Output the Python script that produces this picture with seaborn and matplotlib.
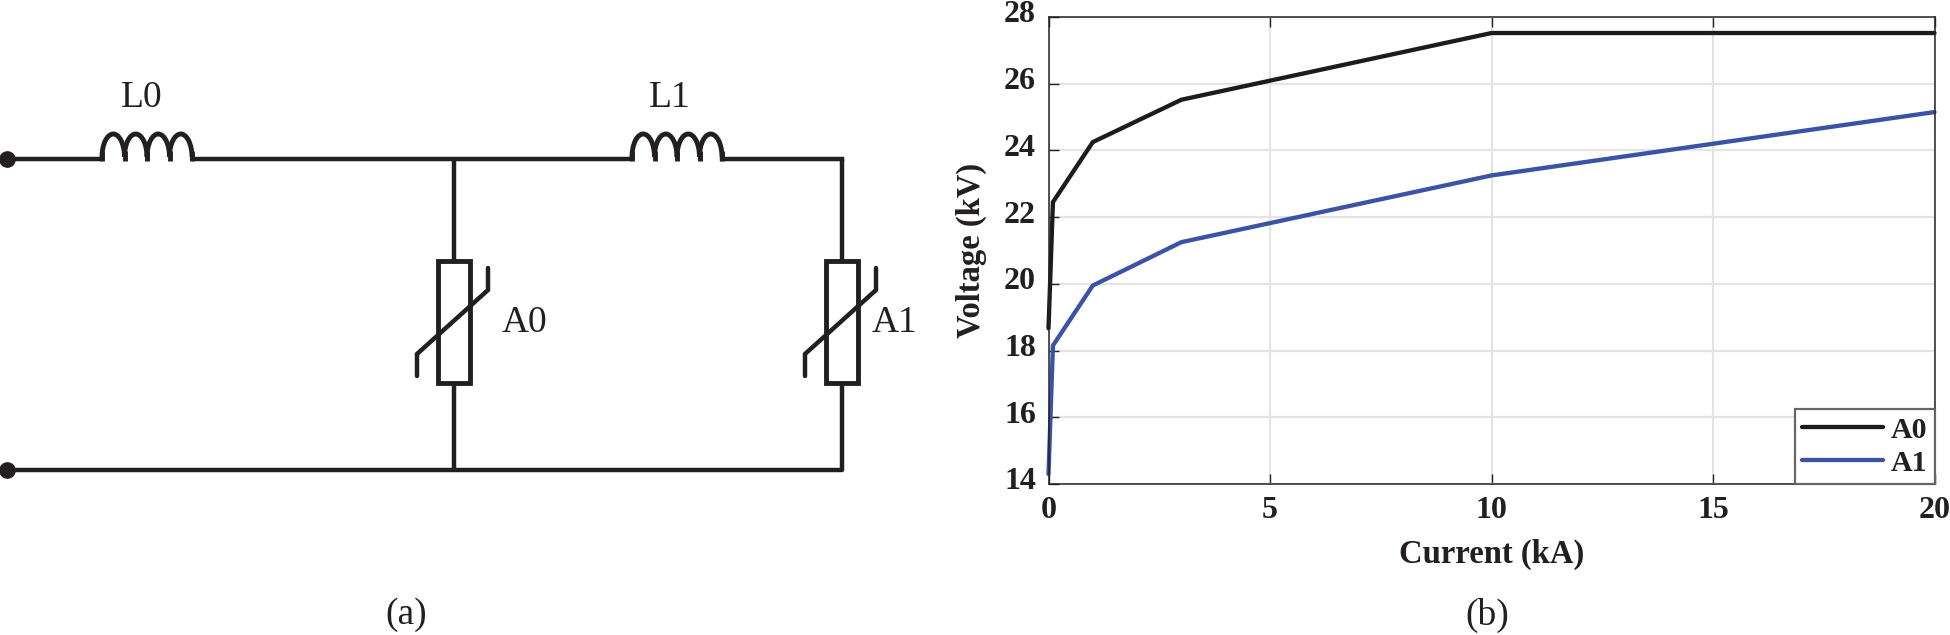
"""Surge arrester circuit (a) and V-I curves (b)"""
# %% Imports
import pandas as pd
import seaborn as sns
from matplotlib import pyplot as plt
from matplotlib.patches import Arc, Rectangle
from matplotlib.transforms import ScaledTranslation

# %% Data
current_ka = [0, 0.1, 1, 3, 10, 20]
a0_voltage = [18.67, 22.45, 24.25, 25.52, 27.52, 27.52]
a1_voltage = [14.3, 18.15, 19.95, 21.25, 23.25, 25.15]
x_ticks = [0, 5, 10, 15, 20]
y_ticks = [14, 16, 18, 20, 22, 24, 26, 28]
series_colors = {"A0": "#1c1c1c", "A1": "#3b53a4"}

WIDTH, HEIGHT = 1950, 635
INK = "#231f20"
WIRE_LW = 3.2

sns.set_theme(style="white")
plt.rcParams["font.family"] = ["Liberation Serif", "DejaVu Serif"]


# %% Functions
def draw_inductor(ax, x_start, y, n_turns=4, turn_width=22.5):
    # y axis is flipped, so theta 180-360 is the upper half of the arc
    for i in range(n_turns):
        ax.add_patch(
            Arc((x_start + (i + 0.5) * turn_width, y), turn_width, 46, theta1=180, theta2=360, color=INK, lw=3.5)
        )
    for i in range(n_turns + 1):
        ax.plot([x_start + i * turn_width] * 2, [y - 6, y + 4], color=INK, lw=3.5, solid_capstyle="butt")


def draw_arrester(ax, x_mid, label, label_offset):
    ax.plot([x_mid, x_mid], [159, 470], color=INK, lw=WIRE_LW, solid_capstyle="butt")
    ax.add_patch(Rectangle((x_mid - 16, 261), 32, 122, facecolor="white", edgecolor=INK, lw=3.5, zorder=3))
    ax.plot(
        [x_mid - 37, x_mid - 37, x_mid + 34, x_mid + 34],
        [376, 354, 290, 268],
        color=INK,
        lw=3.2,
        zorder=4,
        solid_joinstyle="miter",
    )
    ax.text(x_mid + label_offset, 323, label, fontsize=27, color=INK, va="center", ha="left")


def plot_circuit(ax):
    ax.set_xlim(0, WIDTH)
    ax.set_ylim(HEIGHT, 0)
    ax.axis("off")
    draw_arrester(ax, 454, "A0", 48)
    draw_arrester(ax, 842, "A1", 30)
    ax.plot([7, 102], [159, 159], color=INK, lw=WIRE_LW)
    ax.plot([192, 632], [159, 159], color=INK, lw=WIRE_LW)
    ax.plot([722, 842], [159, 159], color=INK, lw=WIRE_LW, solid_capstyle="projecting")
    ax.plot([7, 842], [470, 470], color=INK, lw=WIRE_LW)
    ax.plot([7, 7], [159, 470], ls="none", marker="o", ms=11, color=INK)
    draw_inductor(ax, 102, 157)
    draw_inductor(ax, 632, 157)
    ax.text(142, 98, "L0", fontsize=27, color=INK, ha="center", va="center")
    ax.text(670, 98, "L1", fontsize=27, color=INK, ha="center", va="center")
    ax.text(406, 615, "(a)", fontsize=27, color=INK, ha="center", va="center")
    ax.text(1487, 615, "(b)", fontsize=27, color=INK, ha="center", va="center")


def plot_curves(ax):
    curves_df = pd.DataFrame(
        {
            "current": current_ka * 2,
            "voltage": a0_voltage + a1_voltage,
            "arrester": ["A0"] * len(current_ka) + ["A1"] * len(current_ka),
        }
    )
    sns.lineplot(
        data=curves_df,
        x="current",
        y="voltage",
        hue="arrester",
        palette=series_colors,
        linewidth=3.1,
        errorbar=None,
        ax=ax,
    )
    for line in ax.get_lines():
        line.set_clip_on(False)
    ax.set_xlim(0, 20)
    ax.set_ylim(14, 28)
    ax.set_xticks(x_ticks)
    ax.set_yticks(y_ticks)
    ax.grid(True, color="#e4e4e4", lw=1.6)
    ax.tick_params(
        direction="in", length=7, width=1, color="#222222", left=True, bottom=True, top=True, right=False, pad=9
    )
    # tick numbers sit a little above their ticks in the original
    nudge_up = ScaledTranslation(0, 4 / 72, ax.figure.dpi_scale_trans)
    for label in ax.get_xticklabels() + ax.get_yticklabels():
        label.set_fontsize(23)
        label.set_fontweight("bold")
        label.set_color(INK)
    for label in ax.get_yticklabels():
        label.set_transform(label.get_transform() + nudge_up)
    ax.set_xlabel("Current (kA)", fontsize=23.5, fontweight="bold", color=INK)
    ax.set_ylabel("Voltage (kV)", fontsize=23.5, fontweight="bold", color=INK)
    ax.xaxis.set_label_coords(0.5, -0.118)
    ax.yaxis.set_label_coords(-0.0694, 0.5)
    for spine in ax.spines.values():
        spine.set_color("#222222")
        spine.set_linewidth(1.1)
    legend = ax.legend(
        loc="lower right",
        bbox_to_anchor=(1, 0),
        borderaxespad=0,
        fancybox=False,
        framealpha=1,
        edgecolor="#666666",
        prop={"size": 21.5, "weight": "bold"},
        handlelength=2.7,
        handletextpad=0.25,
        labelspacing=0.2,
        borderpad=0.25,
        labelcolor=INK,
    )
    legend.get_frame().set_linewidth(1.6)


# %% Plot
fig = plt.figure(figsize=(WIDTH / 100, HEIGHT / 100), dpi=100, facecolor="white")
ax_circuit = fig.add_axes([0, 0, 1, 1])
ax_curves = fig.add_axes([1048.5 / WIDTH, 1 - 484 / HEIGHT, 886 / WIDTH, 467 / HEIGHT])
plot_circuit(ax_circuit)
plot_curves(ax_curves)
fig.savefig("out.png", dpi=100)
